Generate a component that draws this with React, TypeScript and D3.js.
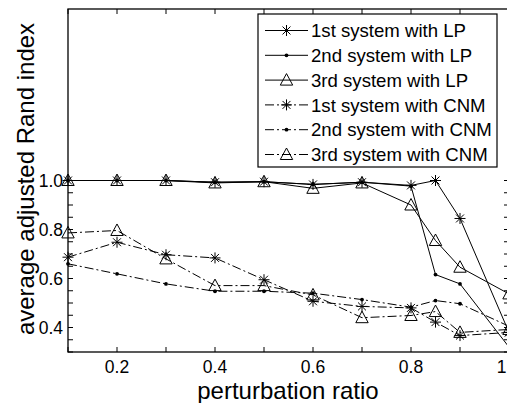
import React from "react";
import * as d3 from "d3";

const xValues = [0.1, 0.2, 0.3, 0.4, 0.5, 0.6, 0.7, 0.8, 0.85, 0.9, 1.0];
const lp1 = [1.0, 1.0, 1.0, 0.993, 0.995, 0.984, 0.993, 0.98, 1.0, 0.845, 0.38];
const lp2 = [1.0, 1.0, 1.0, 0.993, 0.995, 0.984, 0.993, 0.977, 0.616, 0.578, 0.32];
const lp3 = [1.0, 1.0, 1.0, 0.99, 0.995, 0.968, 0.99, 0.9, 0.755, 0.646, 0.537];
const cnm1 = [0.687, 0.748, 0.697, 0.684, 0.595, 0.507, 0.486, 0.48, 0.422, 0.367, 0.38];
const cnm2 = [0.66, 0.619, 0.578, 0.548, 0.548, 0.54, 0.514, 0.483, 0.51, 0.497, 0.405];
const cnm3 = [0.786, 0.796, 0.68, 0.571, 0.571, 0.533, 0.44, 0.449, 0.465, 0.38, 0.392];

const seriesNames = [
  "1st system with LP",
  "2nd system with LP",
  "3rd system with LP",
  "1st system with CNM",
  "2nd system with CNM",
  "3rd system with CNM",
];
const seriesValues = [lp1, lp2, lp3, cnm1, cnm2, cnm3];
const seriesMarkers = ["star", "dot", "tri", "star", "dot", "tri"];
const seriesDash = ["", "", "", "9,3,2,3", "9,3,2,3", "9,3,2,3"];

const xTicks = [0.1, 0.2, 0.3, 0.4, 0.5, 0.6, 0.7, 0.8, 0.9, 1.0];
const xTickLabels = [0.2, 0.4, 0.6, 0.8, 1.0];
const yTicks = d3.range(0, 15).map((i) => 0.3 + i * 0.05);
const yTickLabels = [0.4, 0.6, 0.8, 1.0];

const W = 507;
const H = 403;
const left = 68;
const right = 509;
const top = 9;
const bottom = 352;

const FONT = "'Liberation Sans', Arial, Helvetica, sans-serif";

function Marker({ kind, x, y }: { kind: string; x: number; y: number }) {
  if (kind === "star") {
    const r = 5.5;
    const d = r * 0.72;
    return (
      <path
        d={`M${x - r},${y}L${x + r},${y}M${x},${y - r}L${x},${y + r}M${x - d},${y - d}L${x + d},${y + d}M${x - d},${y + d}L${x + d},${y - d}`}
        stroke="#000"
        strokeWidth={1}
        fill="none"
      />
    );
  }
  if (kind === "dot") {
    return <circle cx={x} cy={y} r={1.9} fill="#000" />;
  }
  return (
    <path
      d={`M${x},${y - 6.5}L${x + 6.2},${y + 5}L${x - 6.2},${y + 5}Z`}
      stroke="#000"
      strokeWidth={1}
      fill="none"
    />
  );
}

export default function App() {
  const xs = d3.scaleLinear().domain([0.1, 1.0]).range([left, right]);
  const ys = d3.scaleLinear().domain([0.3, 1.7]).range([bottom, top]);
  const line = d3
    .line<number>()
    .x((_, i) => xs(xValues[i]))
    .y((v) => ys(v));

  const legX = 258;
  const legY = 14;
  const legW = 239;
  const legH = 153;
  const rowY = (i: number) => 30.5 + i * 24.8;

  return (
    <svg
      width={W}
      height={H}
      style={{ position: "absolute", left: 0, top: 0, background: "#fff" }}
      fontFamily={FONT}
    >
      <rect x={0} y={0} width={W} height={H} fill="#fff" />
      <defs>
        <clipPath id="plotclip">
          <rect x={left} y={top} width={right - left} height={bottom - top} />
        </clipPath>
      </defs>

      {/* ticks */}
      {xTicks.map((t) => (
        <g key={"xt" + t}>
          <line x1={xs(t)} x2={xs(t)} y1={bottom} y2={bottom - 5} stroke="#000" strokeWidth={1} />
          <line x1={xs(t)} x2={xs(t)} y1={top} y2={top + 5} stroke="#000" strokeWidth={1} />
        </g>
      ))}
      {yTicks.map((t) => (
        <g key={"yt" + t}>
          <line x1={left} x2={left + 5} y1={ys(t)} y2={ys(t)} stroke="#000" strokeWidth={1} />
          <line x1={right} x2={right - 5} y1={ys(t)} y2={ys(t)} stroke="#000" strokeWidth={1} />
        </g>
      ))}

      {/* data */}
      <g clipPath="url(#plotclip)">
        {seriesValues.map((vals, si) => (
          <path
            key={"s" + si}
            d={line(vals) || ""}
            fill="none"
            stroke="#000"
            strokeWidth={1}
            strokeDasharray={seriesDash[si] || undefined}
          />
        ))}
      </g>
      {seriesValues.map((vals, si) => (
        <g key={"m" + si}>
          {vals.map((v, i) => (
            <Marker key={i} kind={seriesMarkers[si]} x={xs(xValues[i])} y={ys(v)} />
          ))}
        </g>
      ))}

      {/* axes box */}
      <rect
        x={left}
        y={top}
        width={right - left}
        height={bottom - top}
        fill="none"
        stroke="#000"
        strokeWidth={1.3}
      />

      {/* tick labels */}
      {xTickLabels.map((t) => (
        <text
          key={"xl" + t}
          x={t === 1 ? xs(t) - 7.5 : xs(t)}
          y={373}
          textAnchor="middle"
          fontSize={17.5}
          fill="#000"
        >
          {t === 1 ? "1" : d3.format(".1f")(t)}
        </text>
      ))}
      {yTickLabels.map((t) => (
        <text
          key={"yl" + t}
          x={63}
          y={ys(t) + 6.3}
          textAnchor="end"
          fontSize={17.5}
          fill="#000"
        >
          {d3.format(".1f")(t)}
        </text>
      ))}

      {/* axis labels */}
      <text x={288} y={399} textAnchor="middle" fontSize={24} fill="#000">
        perturbation ratio
      </text>
      <text
        transform={`translate(34,179) rotate(-90)`}
        textAnchor="middle"
        fontSize={24}
        fill="#000"
      >
        average adjusted Rand index
      </text>

      {/* legend */}
      <rect x={legX} y={legY} width={legW} height={legH} fill="#fff" stroke="#000" strokeWidth={1.2} />
      {seriesNames.map((name, i) => (
        <g key={"lg" + i}>
          <line
            x1={265}
            x2={308}
            y1={rowY(i)}
            y2={rowY(i)}
            stroke="#000"
            strokeWidth={1}
            strokeDasharray={seriesDash[i] || undefined}
          />
          <Marker kind={seriesMarkers[i]} x={286.5} y={rowY(i)} />
          <text x={311} y={rowY(i) + 6.6} fontSize={18.6} fill="#000">
            {name}
          </text>
        </g>
      ))}
    </svg>
  );
}
